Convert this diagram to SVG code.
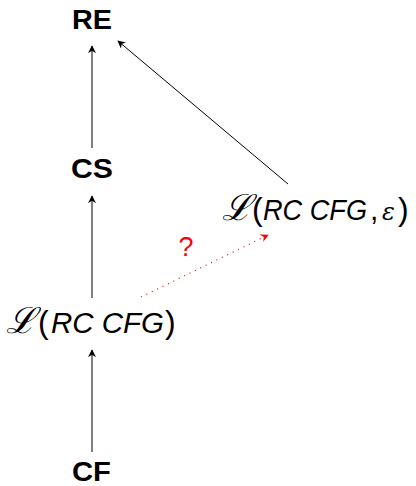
<svg xmlns="http://www.w3.org/2000/svg" width="416" height="486" viewBox="0 0 416 486">
<style>
.b{font-family:"Liberation Sans",Arial,sans-serif;font-weight:bold;font-size:27px;fill:#000}
.m{font-family:"Liberation Sans",Arial,sans-serif;font-size:30px;fill:#000}
.p{font-size:32px}
.i{font-style:italic}
.s{font-family:"DejaVu Serif","Liberation Serif",serif;font-style:italic;font-size:36px}
.g{font-family:"DejaVu Serif","Liberation Serif",serif;font-style:italic;font-size:24px}
.e{stroke:#000;stroke-width:1;fill:none}
.r{stroke:#f00;stroke-width:1.2;fill:none;stroke-dasharray:1 5}
</style>
<defs>
<marker id="ah" viewBox="0 0 10 10" refX="9" refY="5" markerWidth="8" markerHeight="8" orient="auto" markerUnits="userSpaceOnUse">
<path d="M0,0 L10,5 L0,10 L3,5 Z" fill="#000"/>
</marker>
<marker id="ahr" viewBox="0 0 10 10" refX="9" refY="5" markerWidth="8" markerHeight="8" orient="auto" markerUnits="userSpaceOnUse">
<path d="M0,0 L10,5 L0,10 L3,5 Z" fill="#f00"/>
</marker>
</defs>
<g id="RE"><text class="b" x="72" y="29" textLength="40" lengthAdjust="spacingAndGlyphs">RE</text></g>
<g id="CS"><text class="b" x="71" y="178" textLength="42" lengthAdjust="spacingAndGlyphs">CS</text></g>
<g id="LRC"><text class="m" y="333"><tspan class="s" x="6">ℒ</tspan><tspan class="p" x="38">(</tspan><tspan class="i" x="51" textLength="113" lengthAdjust="spacingAndGlyphs">RC CFG</tspan><tspan class="p" x="165">)</tspan></text></g>
<g id="CF"><text class="b" x="72" y="481" textLength="39" lengthAdjust="spacingAndGlyphs">CF</text></g>
<g id="LRCe"><text class="m" y="220"><tspan class="s" x="222">ℒ</tspan><tspan class="p" x="252">(</tspan><tspan class="i" x="263" textLength="104" lengthAdjust="spacingAndGlyphs">RC CFG</tspan><tspan x="370">,</tspan><tspan class="g" x="382">ε</tspan><tspan class="p" x="398">)</tspan></text></g>
<g id="connectors">
<line class="e" x1="92" y1="452" x2="92" y2="350" marker-end="url(#ah)"/>
<line class="e" x1="92" y1="298" x2="92" y2="196" marker-end="url(#ah)"/>
<line class="e" x1="92" y1="148" x2="92" y2="46" marker-end="url(#ah)"/>
<line class="e" x1="288" y1="184" x2="118" y2="41" marker-end="url(#ah)"/>
<line class="r" x1="141" y1="297" x2="268" y2="235" marker-end="url(#ahr)"/>
<text x="186" y="256" text-anchor="middle" font-family="Liberation Sans,Arial,sans-serif" font-size="27" fill="#f00">?</text>
</g>
</svg>
